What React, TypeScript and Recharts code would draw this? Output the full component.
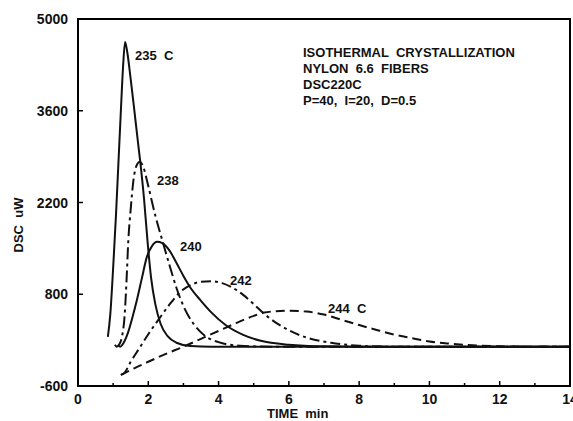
import React from 'react';
import { LineChart, Line, XAxis, YAxis, ReferenceArea } from 'recharts';

// DSC isothermal crystallization traces, nylon 6.6 fibers.
// x = time (min), y = heat flow (uW).
const T235: [number, number][] = [
  [0.85, 150], [0.92, 500], [1.0, 1200], [1.08, 2000], [1.15, 2800], [1.22, 3600],
  [1.28, 4250], [1.34, 4650], [1.4, 4500], [1.5, 4080], [1.6, 3620], [1.7, 3150],
  [1.78, 2780], [1.88, 2250], [1.98, 1600], [2.08, 1050], [2.2, 650], [2.35, 350],
  [2.55, 160], [2.8, 60], [3.2, 10], [3.8, 0], [14, 0],
];
const T238: [number, number][] = [
  [1.05, 30], [1.1, 0], [1.18, 40], [1.25, 150], [1.33, 500], [1.38, 1000], [1.43, 1600],
  [1.5, 2100], [1.58, 2550], [1.68, 2780], [1.76, 2820], [1.86, 2740], [2.0, 2450],
  [2.2, 2000], [2.4, 1620], [2.6, 1250], [2.8, 900], [3.0, 620], [3.3, 340],
  [3.6, 170], [4.0, 70], [4.6, 15], [5.5, 0], [14, 0],
];
const T240: [number, number][] = [
  [1.15, 20], [1.2, 0], [1.3, 60], [1.42, 210], [1.55, 450], [1.68, 720], [1.82, 1050],
  [1.96, 1370], [2.1, 1530], [2.25, 1600], [2.4, 1580], [2.6, 1470], [2.8, 1280],
  [3.0, 1080], [3.2, 900], [3.5, 700], [3.8, 520], [4.2, 330], [4.7, 180], [5.2, 90],
  [6.0, 30], [7.0, 5], [8.0, 0], [14, 0],
];
const T242: [number, number][] = [
  [1.22, -430], [1.32, -400], [1.5, -230], [1.75, -20], [2.0, 190], [2.3, 420],
  [2.6, 640], [2.9, 830], [3.2, 940], [3.5, 990], [3.8, 1000], [4.1, 970], [4.4, 900],
  [4.7, 790], [5.0, 650], [5.3, 500], [5.65, 360], [6.0, 250], [6.5, 140], [7.2, 60],
  [8.0, 15], [9.0, 0], [14, 0],
];
const T244: [number, number][] = [
  [1.22, -430], [1.3, -410], [1.6, -330], [2.0, -230], [2.5, -110], [3.0, 0], [3.5, 120],
  [4.0, 240], [4.5, 360], [5.0, 470], [5.3, 520], [5.6, 540], [6.0, 548], [6.5, 535],
  [7.0, 490], [7.5, 410], [8.0, 330], [8.5, 255], [9.0, 185], [9.5, 130], [10.0, 80],
  [10.5, 50], [11.0, 28], [11.5, 14], [12.0, 5], [13.0, 0], [14, 0],
];

const X_TICKS = [0, 1, 2, 3, 4, 5, 6, 7, 8, 9, 10, 11, 12, 13, 14];
const X_LABELED = [0, 2, 4, 6, 8, 10, 12, 14];
const Y_TICKS = [-600, 800, 2200, 3600, 5000];

const TITLE_LINES = [
  'ISOTHERMAL  CRYSTALLIZATION',
  'NYLON  6.6  FIBERS',
  'DSC220C',
  'P=40,  I=20,  D=0.5',
];

const FONT = '"Liberation Sans", Arial, Helvetica, sans-serif';

const toRows = (pts: [number, number][]) => pts.map(([x, y]) => ({ x, y }));

const SERIES = [
  { key: '235', data: toRows(T235), dash: undefined },
  { key: '238', data: toRows(T238), dash: '12 4 3 4' },
  { key: '240', data: toRows(T240), dash: undefined },
  { key: '242', data: toRows(T242), dash: '10 4 3 4' },
  { key: '244', data: toRows(T244), dash: '9 5' },
];

function XTick(props: any) {
  const { x, y, payload } = props;
  const major = X_LABELED.includes(payload.value);
  return (
    <g>
      <line x1={x} y1={y} x2={x} y2={y - (major ? 5 : 3)} stroke="#000" strokeWidth={1.5} />
      {major ? (
        <text x={x} y={y + 18} textAnchor="middle" fontFamily={FONT} fontWeight="bold" fontSize={14} fill="#111">
          {payload.value}
        </text>
      ) : null}
    </g>
  );
}

function YTick(props: any) {
  const { x, y, payload } = props;
  return (
    <g>
      <line x1={x} y1={y} x2={x + 5} y2={y} stroke="#000" strokeWidth={1.5} />
      <text x={x - 10} y={y + 5} textAnchor="end" fontFamily={FONT} fontWeight="bold" fontSize={14} fill="#111">
        {payload.value}
      </text>
    </g>
  );
}

const txt = { fontFamily: FONT, fontWeight: 'bold' as const, fontSize: 13, fill: '#111', whiteSpace: 'pre' as const };

export default function App() {
  return (
    <div style={{ position: 'absolute', left: 0, top: 0, width: 573, height: 421, background: '#fff' }}>
      <LineChart width={573} height={421} margin={{ top: 19, right: 3, bottom: 5, left: 8 }}>
        <XAxis
          type="number"
          dataKey="x"
          domain={[0, 14]}
          ticks={X_TICKS}
          interval={0}
          height={30}
          tickSize={0}
          tickMargin={0}
          tick={XTick}
          axisLine={{ stroke: '#000', strokeWidth: 2 }}
          allowDataOverflow
        />
        <YAxis
          type="number"
          dataKey="y"
          domain={[-600, 5000]}
          ticks={Y_TICKS}
          interval={0}
          width={70}
          tickSize={0}
          tickMargin={0}
          tick={YTick}
          axisLine={{ stroke: '#000', strokeWidth: 2 }}
          allowDataOverflow
        />
        <ReferenceArea x1={0} x2={14} y1={-600} y2={5000} fill="none" stroke="#000" strokeWidth={2} />
        {SERIES.map((s) => (
          <Line
            key={s.key}
            data={s.data}
            dataKey="y"
            type="monotone"
            stroke="#111"
            strokeWidth={2}
            strokeDasharray={s.dash}
            dot={false}
            isAnimationActive={false}
          />
        ))}
      </LineChart>
      <svg width={573} height={421} style={{ position: 'absolute', left: 0, top: 0, pointerEvents: 'none' }}>
        {TITLE_LINES.map((t, i) => (
          <text key={t} x={303} y={57 + i * 16} style={txt}>
            {t}
          </text>
        ))}
        <text x={135} y={60} style={txt}>{'235  C'}</text>
        <text x={157} y={185} style={txt}>238</text>
        <text x={180} y={251} style={txt}>240</text>
        <text x={230} y={285} style={txt}>242</text>
        <text x={328} y={313} style={txt}>{'244  C'}</text>
        <text x={267} y={418} style={txt}>{'TIME  min'}</text>
        <text x={23} y={225} textAnchor="middle" transform="rotate(-90 23 225)" style={txt}>
          {'DSC  uW'}
        </text>
      </svg>
    </div>
  );
}
